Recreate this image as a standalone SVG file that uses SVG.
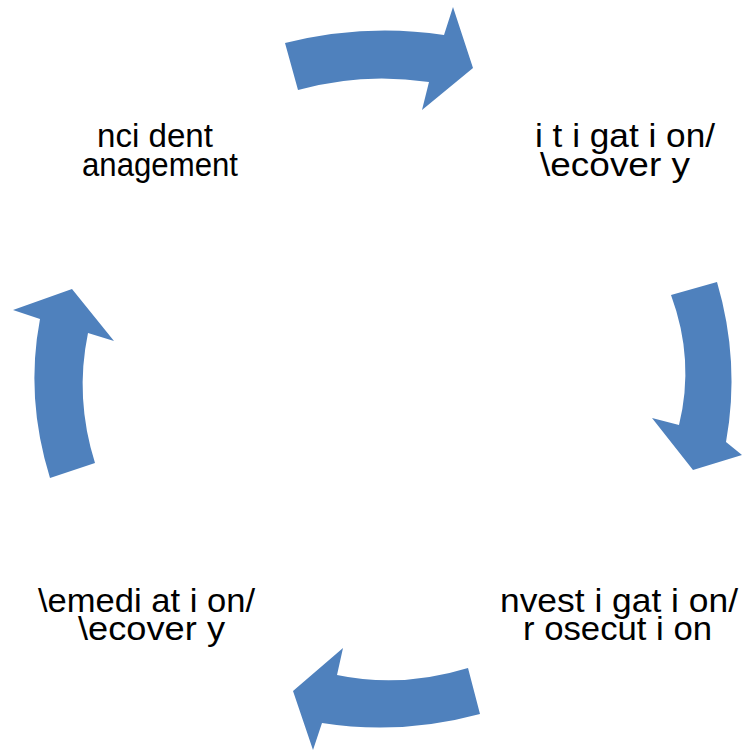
<svg xmlns="http://www.w3.org/2000/svg" width="742" height="752" viewBox="0 0 742 752">
<style>
.arrow{fill:#4F81BD;stroke:none}
.lbl{font-family:"Liberation Sans",Arial,sans-serif;font-size:33px;fill:#000}
</style>
<rect width="742" height="752" fill="#fff"/>
<g id="connectors">
<path class="arrow" d="M285,43 Q365.5,23 444,35 L453,7 L473,68 L422,110 L429,82 Q362.5,72 298,90 Z"/>
<path class="arrow" d="M671,295 L717,282 Q740.5,362 726,442 L742,455 L693,470 L652,418 L679,425 Q695,360 671,295 Z"/>
<path class="arrow" d="M468,668 Q401.5,688.5 337,675 L343,648 L293,691 L313,750 L322,723 Q401,735.5 480,714 Z"/>
<path class="arrow" d="M50,478 Q25,397.5 40,319 L13,310 L72,289 L114,341 L88,333 Q74.5,398 95,463 Z"/>
</g>
<g id="incident">
<text class="lbl" x="97" y="147" textLength="116" lengthAdjust="spacingAndGlyphs">nci dent</text>
<text class="lbl" x="82" y="176" textLength="156" lengthAdjust="spacingAndGlyphs">anagement</text>
</g>
<g id="mitigation">
<text class="lbl" x="535" y="147" textLength="180" lengthAdjust="spacingAndGlyphs">i t i gat i on/</text>
<text class="lbl" x="540" y="176" textLength="150" lengthAdjust="spacingAndGlyphs">\ecover y</text>
</g>
<g id="investigation">
<text class="lbl" x="500" y="612" textLength="238" lengthAdjust="spacingAndGlyphs">nvest i gat i on/</text>
<text class="lbl" x="523" y="640" textLength="189" lengthAdjust="spacingAndGlyphs">r osecut i on</text>
</g>
<g id="remediation">
<text class="lbl" x="38" y="612" textLength="217" lengthAdjust="spacingAndGlyphs">\emedi at i on/</text>
<text class="lbl" x="78" y="640" textLength="147" lengthAdjust="spacingAndGlyphs">\ecover y</text>
</g>
</svg>
